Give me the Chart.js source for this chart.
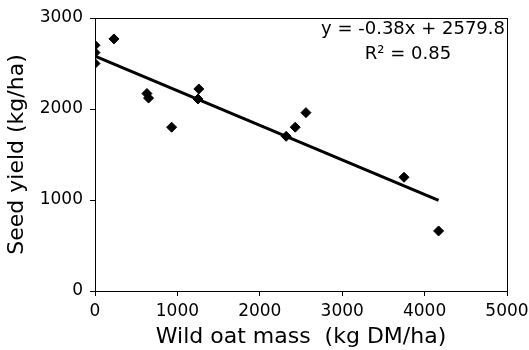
<!DOCTYPE html>
<html>
<head>
<meta charset="utf-8">
<script src="https://cdn.jsdelivr.net/npm/chart.js@4/dist/chart.umd.min.js"></script>
<style>
  body { margin: 0; background: #fff; }
  #wrap { width: 529px; height: 350px; position: relative; }
</style>
</head>
<body>
<div id="wrap"><canvas id="yieldChart"></canvas></div>
<script>
// data
const wildOatMass = [0, 0, 0, 230, 630, 650, 930, 1260, 1250, 2320, 2430, 2560, 3750, 4170];
const seedYield = [2700, 2620, 2500, 2770, 2170, 2120, 1800, 2220, 2110, 1700, 1800, 1960, 1250, 660];
const xTicks = [0, 1000, 2000, 3000, 4000, 5000];
const yTicks = [0, 1000, 2000, 3000];

// fitted trendline shown on the chart
const slope = -0.38;
const intercept = 2579.8;
const eqLines = ['y = -0.38x + 2579.8', 'R\u00B2 = 0.85'];

const FONT = "'DejaVu Sans', sans-serif";

const points = wildOatMass.map((x, i) => ({ x: x, y: seedYield[i] }));
const xMax = Math.max(...wildOatMass);
const trend = [0, xMax].map(x => ({ x: x, y: slope * x + intercept }));

// box round the plot + the equation text
const framePlugin = {
    id: 'frame',
    afterDraw(chart) {
        const { ctx, chartArea: a } = chart;
        ctx.save();
        ctx.strokeStyle = '#000';
        ctx.lineWidth = 1;
        ctx.strokeRect(a.left + 0.5, a.top + 0.5, a.right - a.left, a.bottom - a.top);
        ctx.fillStyle = '#000';
        ctx.font = '18px ' + FONT;
        ctx.textAlign = 'center';
        ctx.textBaseline = 'alphabetic';
        ctx.fillText(eqLines[0], 413, 34);
        ctx.fillText(eqLines[1], 408, 59);
        ctx.restore();
    }
};

new Chart(document.getElementById('yieldChart'), {
    type: 'scatter',
    data: {
        datasets: [{
            label: 'Seed yield',
            data: points,
            pointStyle: 'rectRot',
            pointRadius: 5,
            pointHoverRadius: 5,
            backgroundColor: '#000',
            borderColor: '#000',
            borderWidth: 1,
            order: 0
        }, {
            type: 'line',
            label: 'Trend',
            data: trend,
            borderColor: '#000',
            borderWidth: 3,
            pointRadius: 0,
            fill: false,
            order: 1
        }]
    },
    options: {
        responsive: true,
        maintainAspectRatio: false,
        animation: false,
        layout: { padding: { left: 0, right: 22, top: 18, bottom: 0 } },
        plugins: {
            legend: { display: false },
            tooltip: { enabled: false }
        },
        scales: {
            x: {
                type: 'linear',
                min: 0,
                max: 5000,
                afterBuildTicks: s => { s.ticks = xTicks.map(v => ({ value: v })); },
                afterFit: s => { s.height = 59; s.paddingLeft = 0; s.paddingRight = 0; },
                grid: { drawOnChartArea: false, tickLength: 5, tickColor: '#000' },
                border: { color: '#000' },
                ticks: {
                    color: '#000',
                    font: { family: FONT, size: 17 },
                    padding: 5,
                    maxRotation: 0,
                    callback: v => String(v)
                },
                title: {
                    display: true,
                    text: 'Wild oat mass  (kg DM/ha)',
                    color: '#000',
                    font: { family: FONT, size: 22 },
                    padding: { top: 0, bottom: 0 }
                }
            },
            y: {
                min: 0,
                max: 3000,
                afterBuildTicks: s => { s.ticks = yTicks.map(v => ({ value: v })); },
                afterFit: s => { s.width = 95; s.paddingTop = 0; s.paddingBottom = 0; },
                grid: { drawOnChartArea: false, tickLength: 5, tickColor: '#000' },
                border: { color: '#000' },
                ticks: {
                    color: '#000',
                    font: { family: FONT, size: 17 },
                    padding: 7,
                    callback: v => String(v)
                },
                title: {
                    display: true,
                    text: 'Seed yield (kg/ha)',
                    color: '#000',
                    font: { family: FONT, size: 22 },
                    padding: { top: 4, bottom: 0 }
                }
            }
        }
    },
    plugins: [framePlugin]
});
</script>
</body>
</html>
